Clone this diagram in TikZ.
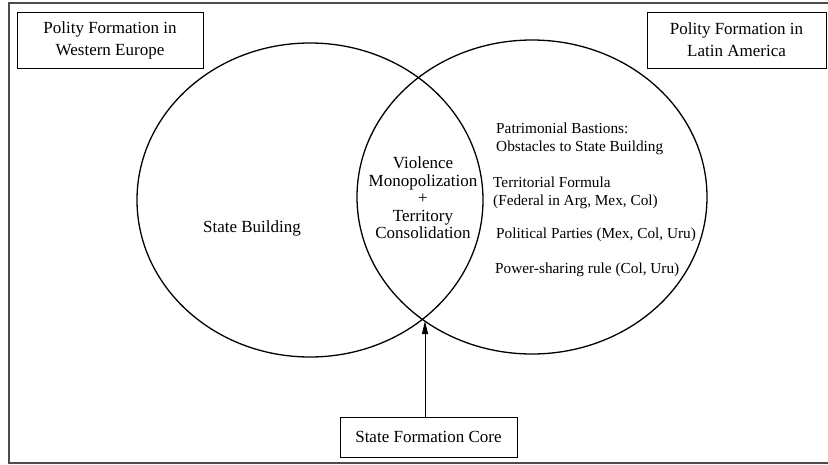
\documentclass[tikz,border=0pt]{standalone}
\usepackage{fontspec}
\setmainfont{Liberation Serif}
\usetikzlibrary{shapes.geometric,arrows.meta}
\tikzset{
  label box/.style={draw, line width=0.9pt, inner sep=0pt, align=center,
     font=\fontsize{17}{22}\selectfont},
  venn/.style={ellipse, draw, line width=1.3pt, inner sep=0pt},
  plain text/.style={inner sep=0pt, align=center, font=\fontsize{17}{17.5}\selectfont},
  list text/.style={inner sep=0pt, anchor=west, align=left, font=\fontsize{15.3}{18}\selectfont},
  pointer/.style={line width=0.9pt, -{Triangle[length=13pt,width=6pt]}}
}
\begin{document}
\begin{tikzpicture}[x=1pt,y=-1pt]
\useasboundingbox (0,0) rectangle (828,464);
% outer frame
\draw[line width=1.2pt, black!70] (9,3) rectangle (829.5,463);
% circles
\node[venn, minimum width=346pt, minimum height=314pt] (left) at (310,200) {};
\node[venn, minimum width=350pt, minimum height=314pt] (right) at (532,197) {};
% label boxes
\node[label box, minimum width=186pt, minimum height=56pt] (we) at (110,40)
  {Polity Formation in\\Western Europe};
\node[label box, minimum width=179pt, minimum height=56pt] (la) at (736.5,40)
  {Polity Formation in\\Latin America};
\node[label box, minimum width=177pt, minimum height=40pt] (core) at (428.5,437)
  {State Formation Core};
% texts
\node[plain text] (sb) at (252,228) {State Building};
\node[plain text] (lens) at (423,198)
  {Violence\\Monopolization\\+\\Territory\\Consolidation};
\node[list text] (pb) at (496,139) {Patrimonial Bastions:\\Obstacles to State Building};
\node[list text] (tf) at (493,193) {Territorial Formula\\(Federal in Arg, Mex, Col)};
\node[list text] (pp) at (496,235) {Political Parties (Mex, Col, Uru)};
\node[list text] (ps) at (495,270) {Power-sharing rule (Col, Uru)};
% arrow
\coordinate (ip) at (425,321);
\draw[pointer] (core.north -| ip) -- (ip);
\end{tikzpicture}
\end{document}
